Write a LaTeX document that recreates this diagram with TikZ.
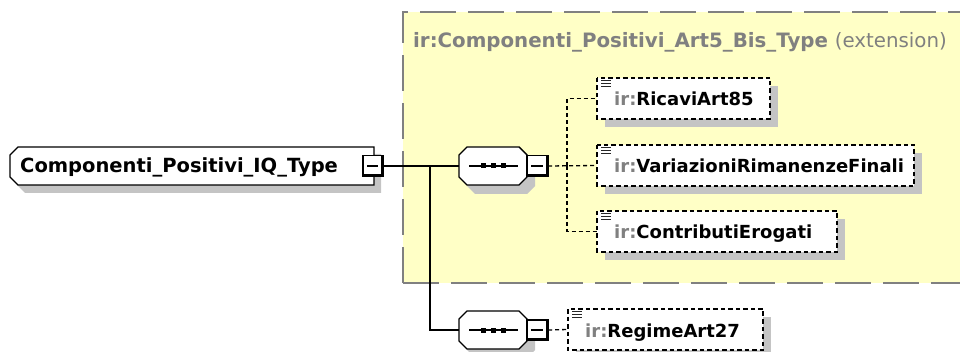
\documentclass[tikz,border=0pt]{standalone}
\usepackage{fontspec}
\setmainfont{DejaVu Sans}
\definecolor{yel}{HTML}{FFFFC6}
\definecolor{shad}{HTML}{C4C4C4}
\definecolor{irgray}{HTML}{808080}
\tikzset{
  conn/.style={draw=black, line width=1.4pt},
  dconn/.style={draw=black, line width=1.3pt, dash pattern=on 4pt off 3pt},
  outline/.style={draw=black, fill=white, line width=1.4pt},
  shadowfill/.style={fill=shad, draw=none},
  elbox/.style={draw=black, fill=white, line width=1.4pt, dash pattern=on 4.5pt off 3pt},
  box/.style={inner sep=0pt, minimum width=#1},
  lbl/.style={anchor=base west, inner sep=0pt, font=\fontsize{18}{22}\selectfont\bfseries},
}
\newcommand\irp{\textcolor{irgray}{ir:}}
\begin{document}
\begin{tikzpicture}[x=1pt,y=-1pt]
\useasboundingbox (0,0) rectangle (960,352);
% extension box
\fill[yel] (403,12) rectangle (965,283);
\draw[irgray, line width=2pt, dash pattern=on 36pt off 12pt] (403,283) -- (403,12) -- (965,12);
\draw[irgray, line width=2pt, dash pattern=on 36pt off 12pt] (403,283) -- (965,283);
\node[lbl, text=irgray, font=\fontsize{19.8}{24}\selectfont\bfseries] (title) at (413,48) {ir:Componenti\_Positivi\_Art5\_Bis\_Type {\mdseries (extension)}};

% root node
\fill[shadowfill] (25,154) -- (381,154) -- (381,193) -- (25,193) -- (17,185) -- (17,162) -- cycle;
\path[outline] (18,147) -- (374,147) -- (374,185) -- (18,185) -- (10,177) -- (10,155) -- cycle;
\node[lbl, font=\fontsize{19.5}{24}\selectfont\bfseries] (rootlbl) at (20,173) {Componenti\_Positivi\_IQ\_Type};
\node[box=20pt, minimum height=20pt] (m0) at (373,166) {};
\draw[fill=white, line width=1.4pt] (m0.south west) rectangle (m0.north east);
\draw[line width=2.8pt] ([xshift=-0.7pt]m0.north east) -- ([xshift=-0.7pt,yshift=0.7pt]m0.south east) -- ([yshift=0.7pt]m0.south west);
\draw[line width=1.4pt] (367,166) -- (378,166);

% sequence 1
\fill[shadowfill] (475,154) -- (527,154) -- (535,162) -- (535,186) -- (527,194) -- (475,194) -- (467,186) -- cycle;
\path[outline] (467,147) -- (519,147) -- (527,155) -- (527,177) -- (519,185) -- (467,185) -- (459,177) -- (459,155) -- cycle;
\node[box=68pt, minimum height=38pt] (s1) at (493,166) {};
\draw[line width=1.4pt] (469,166) -- (518,166);
\foreach \xx in {483,493,503} \fill (\xx-2.5,163.5) rectangle (\xx+2.5,168.5);
\node[box=21pt, minimum height=20pt] (m1) at (537.5,166) {};
\draw[fill=white, line width=1.4pt] (m1.south west) rectangle (m1.north east);
\draw[line width=2.8pt] ([xshift=-0.7pt]m1.north east) -- ([xshift=-0.7pt,yshift=0.7pt]m1.south east) -- ([yshift=0.7pt]m1.south west);
\draw[line width=1.4pt] (531,166) -- (543,166);

% sequence 2
\fill[shadowfill] (475,318) -- (527,318) -- (535,326) -- (535,350) -- (527,358) -- (475,358) -- (467,350) -- cycle;
\path[outline] (467,311) -- (519,311) -- (527,319) -- (527,341) -- (519,349) -- (467,349) -- (459,341) -- (459,319) -- cycle;
\node[box=68pt, minimum height=38pt] (s2) at (493,330) {};
\draw[line width=1.4pt] (469,330) -- (518,330);
\foreach \xx in {483,493,503} \fill (\xx-2.5,327.5) rectangle (\xx+2.5,332.5);
\node[box=21pt, minimum height=20pt] (m2) at (537.5,330) {};
\draw[fill=white, line width=1.4pt] (m2.south west) rectangle (m2.north east);
\draw[line width=2.8pt] ([xshift=-0.7pt]m2.north east) -- ([xshift=-0.7pt,yshift=0.7pt]m2.south east) -- ([yshift=0.7pt]m2.south west);
\draw[line width=1.4pt] (531,330) -- (543,330);

% element boxes
\newcommand\elem[6]{% name, x0, y0, x1, y1, text
  \fill[shadowfill] (#2+8,#3+8) rectangle (#4+8,#5+8);
  \path[elbox] (#2,#3) rectangle (#4,#5);
  \node[inner sep=0pt, minimum width=#4pt-#2pt, minimum height=#5pt-#3pt] (#1) at ({(#2+#4)/2},{(#3+#5)/2}) {};
  \foreach \yy in {2.5,5.5,8.5} \draw[line width=1.2pt, black!85] (#2+4,#3+\yy) -- (#2+14,#3+\yy);
  \node[lbl] at (#2+17,{(#3+#5)/2+7.5}) {\irp #6};
}
\elem{c1}{597}{78}{770}{119}{RicaviArt85}
\elem{c2}{597}{145}{914}{186}{VariazioniRimanenzeFinali}
\elem{c3}{597}{211}{837}{252}{ContributiErogati}
\elem{c4}{568}{309}{763}{350}{RegimeArt27}

% connectors
\coordinate (tj) at (430,166);
\draw[conn] (m0.east) -- (s1.west);
\draw[conn] (tj) |- (s2.west);
\coordinate (dj) at (567,166);
\draw[dconn] (m1.east) -- (c2.west);
\draw[dconn] (dj) |- (c1.west);
\draw[dconn] (dj) |- (c3.west);
\draw[dconn] (m2.east) -- (c4.west);
\end{tikzpicture}
\end{document}
